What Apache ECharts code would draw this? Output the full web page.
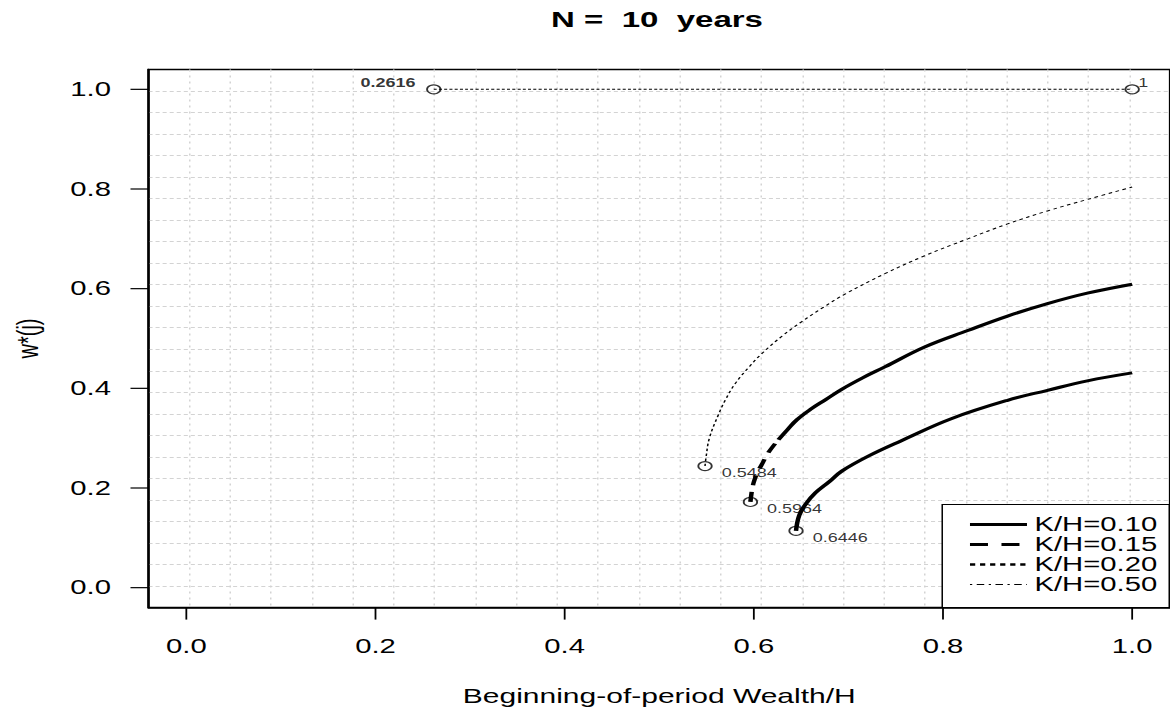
<!DOCTYPE html>
<html>
<head>
<meta charset="utf-8">
<title>N = 10 years</title>
<script src="https://cdn.jsdelivr.net/npm/echarts@6/dist/echarts.min.js"></script>
<style>
    html, body {margin: 0; padding: 0; background: #fff; overflow: hidden;}
    /* the original plot is wider than tall; stretch the whole drawing like it */
    #wChart {width: 780px; height: 711px; transform: scaleX(1.5); transform-origin: 0 0;}
</style>
</head>
<body>
<div id="wChart"></div>
<script>
// K/H = 0.10
var k10X = [0.6446, 0.6480, 0.6550, 0.6650, 0.6800, 0.6930, 0.7210, 0.7560, 0.8087, 0.8683, 0.9105, 0.9526, 1.0];
var k10Y = [0.114, 0.145, 0.168, 0.190, 0.213, 0.234, 0.264, 0.295, 0.339, 0.376, 0.396, 0.415, 0.431];
// K/H = 0.15
var k15X = [0.5964, 0.5980, 0.6000, 0.6040, 0.6087, 0.6150, 0.6260, 0.6360, 0.6455, 0.6600, 0.6756, 0.6929,
    0.7150, 0.7385, 0.7806, 0.8262, 0.8683, 0.9105, 0.9526, 1.0];
var k15Y = [0.172, 0.195, 0.212, 0.232, 0.248, 0.270, 0.297, 0.318, 0.337, 0.358, 0.377, 0.398,
    0.421, 0.443, 0.483, 0.516, 0.545, 0.570, 0.591, 0.609];
// K/H = 0.20
var k20X = [0.5484, 0.5495, 0.5530, 0.5623, 0.5700, 0.5805, 0.5950, 0.6086, 0.6300, 0.6508, 0.6730, 0.6964,
    0.7385, 0.7806, 0.8262, 0.8683, 0.9105, 0.9526, 1.0];
var k20Y = [0.244, 0.262, 0.300, 0.346, 0.377, 0.410, 0.443, 0.470, 0.505, 0.534, 0.562, 0.589,
    0.630, 0.666, 0.700, 0.730, 0.756, 0.779, 0.804];
// K/H = 0.50
var k50X = [0.2616, 1.0];
var k50Y = [1.0, 1.0];
// marked points
var lowX = [0.6446, 0.5964, 0.5484];
var lowY = [0.114, 0.172, 0.244];
var topLeftX = [0.2616];
var topLeftY = [1.0];
var topRightX = [1.0];
var topRightY = [1.0];

var ticks = [0, 0.2, 0.4, 0.6, 0.8, 1.0];
var names = ['K/H=0.10', 'K/H=0.15', 'K/H=0.20', 'K/H=0.50'];

var AXIS_MIN = -0.04;
var AXIS_MAX = 1.04;
var TICK_LEN = 12;
var FONT = '"Liberation Sans", Arial, Helvetica, sans-serif';

function pairs(xs, ys) {
    var out = [];
    for (var i = 0; i < xs.length; i++) {
        out.push([xs[i], ys[i]]);
    }
    return out;
}

function lineSeries(name, data, style) {
    return {
        name: name,
        type: 'line',
        symbol: 'none',
        smooth: 0.4,
        silent: true,
        xAxisIndex: 0,
        yAxisIndex: 0,
        itemStyle: {color: '#000'},
        lineStyle: style,
        data: data
    };
}

function pointSeries(data, label) {
    return {
        type: 'scatter',
        symbol: 'circle',
        symbolSize: 9,
        silent: true,
        z: 5,
        itemStyle: {color: 'rgba(0,0,0,0)', borderColor: '#000', borderWidth: 1.2},
        label: label,
        data: data
    };
}

// tick marks outside the box, placed through the axes' own scales
function tickSeries(onX) {
    return {
        type: 'custom',
        silent: true,
        clip: false,
        z: 10,
        data: ticks.map(function (t) { return onX ? [t, AXIS_MIN] : [AXIS_MIN, t]; }),
        renderItem: function (params, api) {
            var p = api.coord([api.value(0), api.value(1)]);
            var shape = onX
                ? {x1: p[0], y1: p[1], x2: p[0], y2: p[1] + TICK_LEN}
                : {x1: p[0] - TICK_LEN, y1: p[1], x2: p[0], y2: p[1]};
            return {type: 'line', shape: shape, style: {stroke: '#000', lineWidth: 1.2}};
        }
    };
}

var labelBase = {
    show: true,
    color: '#000',
    fontFamily: FONT,
    fontSize: 12,
    formatter: function (p) { return String(p.value[0]); }
};

function legendItem(name, style) {
    return {name: name, itemStyle: {opacity: 0}, lineStyle: style};
}

// the 0.15 curve shows its dashes only near the start
var k15 = pairs(k15X, k15Y);
var dashEnd = 7;

var option = {
    animation: false,
    title: {
        text: 'N =  10  years',
        left: 438,
        top: 9,
        padding: 0,
        textAlign: 'center',
        textStyle: {fontFamily: FONT, fontSize: 22, fontWeight: 'bold', color: '#000'}
    },
    grid: {
        left: 96,
        right: 0,
        top: 69.4,
        bottom: 103.4,
        show: true,
        borderColor: '#000',
        borderWidth: 1.5,
        backgroundColor: 'transparent'
    },
    legend: {
        orient: 'vertical',
        right: 0.5,
        bottom: 103.4,
        selectedMode: false,
        backgroundColor: '#fff',
        borderColor: '#000',
        borderWidth: 1,
        borderRadius: 0,
        padding: [10, 8, 13, 17],
        itemGap: 0,
        itemWidth: 38,
        itemHeight: 14,
        itemTextGap: 17,
        textStyle: {fontFamily: FONT, fontSize: 19.5, lineHeight: 20, color: '#000'},
        data: [
            legendItem(names[0], {color: '#000', width: 3, type: 'solid'}),
            legendItem(names[1], {color: '#000', width: 3, type: [12, 9]}),
            legendItem(names[2], {color: '#000', width: 2.5, type: [3.5, 3.2]}),
            legendItem(names[3], {color: '#000', width: 1, type: [1.5, 3, 5, 3]})
        ]
    },
    xAxis: [
        {
            type: 'value',
            position: 'bottom',
            min: AXIS_MIN,
            max: AXIS_MAX,
            name: 'Beginning-of-period Wealth/H',
            nameLocation: 'middle',
            nameGap: 78,
            nameTextStyle: {fontFamily: FONT, fontSize: 20, color: '#000'},
            axisLine: {show: true, onZero: false, lineStyle: {color: '#000', width: 1.5}},
            axisTick: {show: false},
            axisLabel: {
                customValues: ticks,
                margin: 29,
                fontFamily: FONT,
                fontSize: 19.5,
                color: '#000',
                formatter: function (v) { return v.toFixed(1); }
            },
            splitLine: {show: false}
        },
        {
            type: 'value',
            position: 'top',
            min: 0,
            max: 25,
            interval: 1,
            axisLine: {show: false, onZero: false},
            axisTick: {show: false},
            axisLabel: {show: false},
            splitLine: {show: true, showMinLine: false, showMaxLine: false,
                lineStyle: {color: '#d3d3d3', width: 1, type: [2, 4]}}
        }
    ],
    yAxis: [
        {
            type: 'value',
            position: 'left',
            min: AXIS_MIN,
            max: AXIS_MAX,
            name: 'w*(j)',
            nameLocation: 'middle',
            nameRotate: 90,
            nameGap: 71,
            nameTextStyle: {fontFamily: FONT, fontSize: 20, color: '#000'},
            axisLine: {show: true, onZero: false, lineStyle: {color: '#000', width: 1.5}},
            axisTick: {show: false},
            axisLabel: {
                customValues: ticks,
                margin: 25,
                fontFamily: FONT,
                fontSize: 19.5,
                color: '#000',
                formatter: function (v) { return v.toFixed(1); }
            },
            splitLine: {show: false}
        },
        {
            type: 'value',
            position: 'right',
            min: 0,
            max: 25,
            interval: 1,
            axisLine: {show: false, onZero: false},
            axisTick: {show: false},
            axisLabel: {show: false},
            splitLine: {show: true, showMinLine: false, showMaxLine: false,
                lineStyle: {color: '#d3d3d3', width: 1, type: [2.7, 2]}}
        }
    ],
    series: [
        lineSeries(names[0], pairs(k10X, k10Y), {color: '#000', width: 3, type: 'solid'}),
        lineSeries(names[1], k15.slice(0, dashEnd), {color: '#000', width: 3, type: [10, 7]}),
        lineSeries(names[1], k15.slice(dashEnd - 1), {color: '#000', width: 3, type: 'solid'}),
        lineSeries(names[2], pairs(k20X, k20Y), {color: '#000', width: 1, type: [2.5, 2.5]}),
        lineSeries(names[3], pairs(k50X, k50Y), {color: '#000', width: 1, type: [2, 1.5]}),
        pointSeries(pairs(lowX, lowY), Object.assign({}, labelBase, {position: 'right', distance: 6, offset: [0, 7]})),
        pointSeries(pairs(topLeftX, topLeftY), Object.assign({}, labelBase, {position: 'left', distance: 7, offset: [0, -7], fontWeight: 'bold'})),
        pointSeries(pairs(topRightX, topRightY), Object.assign({}, labelBase, {position: 'right', distance: 0, offset: [-1, -7]})),
        tickSeries(true),
        tickSeries(false)
    ]
};

var panel = document.getElementById('wChart');
var chart = echarts.init(panel, null, {renderer: 'svg'});
chart.setOption(option);
</script>
</body>
</html>
